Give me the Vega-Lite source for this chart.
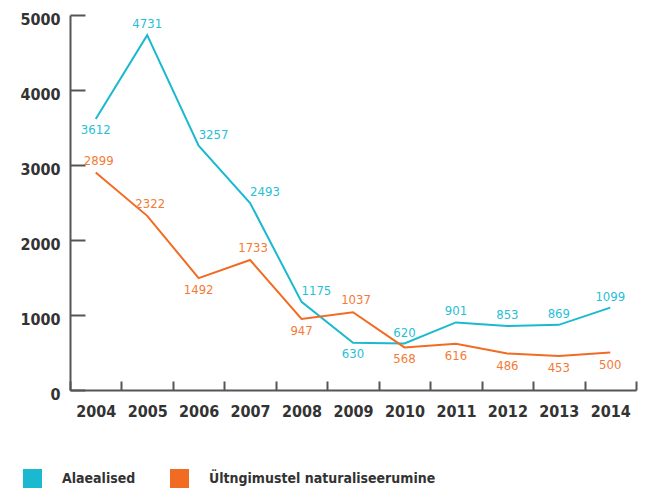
{
  "$schema": "https://vega.github.io/schema/vega-lite/v6.json",
  "width": 566,
  "height": 375,
  "autosize": {"type": "none"},
  "padding": {"left": 70, "top": 15, "right": 9, "bottom": 101},
  "background": "white",
  "config": {
    "view": {"stroke": null},
    "font": "DejaVu Sans Condensed",
    "axis": {
      "labelFont": "DejaVu Sans Condensed",
      "labelFontSize": 16,
      "labelFontWeight": "bold",
      "labelColor": "#333333",
      "domainColor": "#555555",
      "domainWidth": 2,
      "tickColor": "#555555",
      "tickWidth": 2,
      "grid": false,
      "title": null
    }
  },
  "data": {
    "values": [
      {"year": "2004", "series": "Alaealised", "value": 3612},
      {"year": "2005", "series": "Alaealised", "value": 4731},
      {"year": "2006", "series": "Alaealised", "value": 3257},
      {"year": "2007", "series": "Alaealised", "value": 2493},
      {"year": "2008", "series": "Alaealised", "value": 1175},
      {"year": "2009", "series": "Alaealised", "value": 630},
      {"year": "2010", "series": "Alaealised", "value": 620},
      {"year": "2011", "series": "Alaealised", "value": 901},
      {"year": "2012", "series": "Alaealised", "value": 853},
      {"year": "2013", "series": "Alaealised", "value": 869},
      {"year": "2014", "series": "Alaealised", "value": 1099},
      {"year": "2004", "series": "Ültngimustel naturaliseerumine", "value": 2899},
      {"year": "2005", "series": "Ültngimustel naturaliseerumine", "value": 2322},
      {"year": "2006", "series": "Ültngimustel naturaliseerumine", "value": 1492},
      {"year": "2007", "series": "Ültngimustel naturaliseerumine", "value": 1733},
      {"year": "2008", "series": "Ültngimustel naturaliseerumine", "value": 947},
      {"year": "2009", "series": "Ültngimustel naturaliseerumine", "value": 1037},
      {"year": "2010", "series": "Ültngimustel naturaliseerumine", "value": 568},
      {"year": "2011", "series": "Ültngimustel naturaliseerumine", "value": 616},
      {"year": "2012", "series": "Ültngimustel naturaliseerumine", "value": 486},
      {"year": "2013", "series": "Ültngimustel naturaliseerumine", "value": 453},
      {"year": "2014", "series": "Ültngimustel naturaliseerumine", "value": 500}
    ]
  },
  "encoding": {
    "x": {
      "field": "year",
      "type": "ordinal",
      "scale": {"type": "band", "paddingInner": 0, "paddingOuter": 0},
      "axis": {"labelAngle": 0, "tickBand": "extent", "tickSize": -9, "labelPadding": 22}
    },
    "y": {
      "field": "value",
      "type": "quantitative",
      "scale": {"domain": [0, 5000], "nice": false},
      "axis": {"values": [0, 1000, 2000, 3000, 4000, 5000], "format": "d", "tickSize": -15, "labelPadding": 25, "labelOffset": 4}
    }
  },
  "layer": [
    {
      "mark": {"type": "line", "strokeWidth": 2},
      "encoding": {
        "color": {
          "field": "series",
          "type": "nominal",
          "scale": {"domain": ["Alaealised", "Ültngimustel naturaliseerumine"], "range": ["#1bb9cf", "#f26b22"]},
          "legend": {
            "title": null,
            "orient": "none",
            "direction": "horizontal",
            "legendX": -47,
            "legendY": 454,
            "symbolType": "square",
            "symbolSize": 361,
            "symbolStrokeWidth": 0,
            "labelFont": "DejaVu Sans Condensed",
            "labelFontSize": 14,
            "labelFontWeight": "bold",
            "labelColor": "#333333",
            "labelOffset": 20,
            "labelLimit": 0,
            "columnPadding": 34,
            "encode": {"symbols": {"update": {"fill": {"scale": "color", "field": "value"}, "fillOpacity": {"value": 1}}}}
          }
        }
      }
    },
    {
      "transform": [{"filter": "datum.series == 'Alaealised' && indexof(['2005','2010','2011','2012','2013','2014'], datum.year) >= 0"}],
      "mark": {"type": "text", "color": "#27c0d4", "fontSize": 13, "baseline": "middle", "dy": -11},
      "encoding": {"text": {"field": "value", "type": "quantitative", "format": "d"}}
    },
    {
      "transform": [{"filter": "datum.series == 'Alaealised' && indexof(['2006','2007','2008'], datum.year) >= 0"}],
      "mark": {"type": "text", "color": "#27c0d4", "fontSize": 13, "baseline": "middle", "align": "left", "dy": -11},
      "encoding": {"text": {"field": "value", "type": "quantitative", "format": "d"}}
    },
    {
      "transform": [{"filter": "datum.series == 'Alaealised' && indexof(['2004','2009'], datum.year) >= 0"}],
      "mark": {"type": "text", "color": "#27c0d4", "fontSize": 13, "baseline": "middle", "dy": 11},
      "encoding": {"text": {"field": "value", "type": "quantitative", "format": "d"}}
    },
    {
      "transform": [{"filter": "datum.series != 'Alaealised' && indexof(['2004','2005','2007','2009'], datum.year) >= 0"}],
      "mark": {"type": "text", "color": "#f47a36", "fontSize": 13, "baseline": "middle", "dy": -12, "dx": 3},
      "encoding": {"text": {"field": "value", "type": "quantitative", "format": "d"}}
    },
    {
      "transform": [{"filter": "datum.series != 'Alaealised' && indexof(['2006','2008','2010','2011','2012','2013','2014'], datum.year) >= 0"}],
      "mark": {"type": "text", "color": "#f47a36", "fontSize": 13, "baseline": "middle", "dy": 12},
      "encoding": {"text": {"field": "value", "type": "quantitative", "format": "d"}}
    }
  ]
}
